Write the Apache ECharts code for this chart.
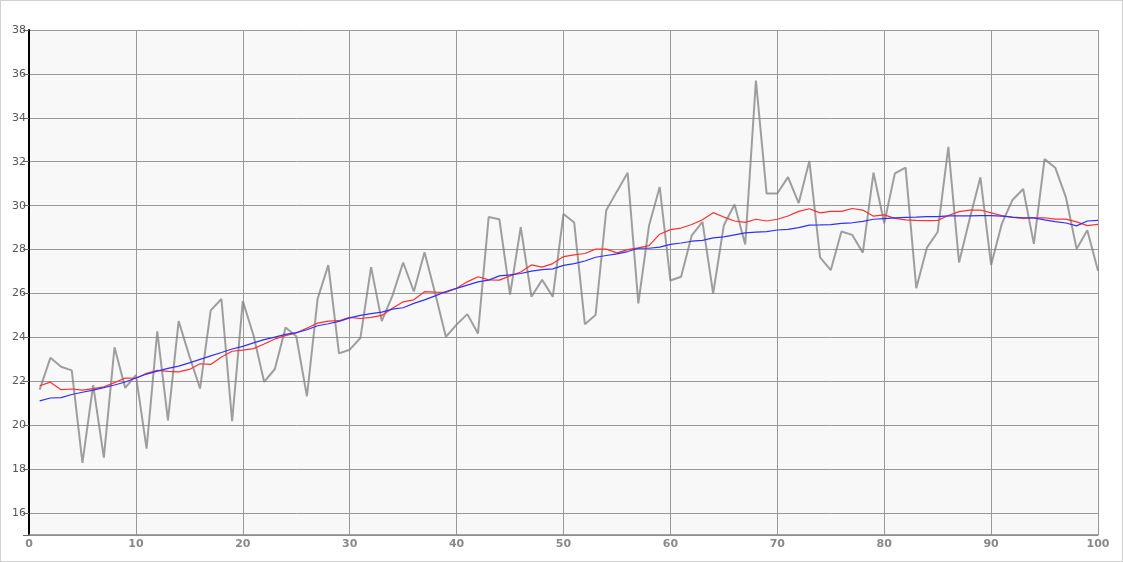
<!DOCTYPE html>
<html>
<head>
<meta charset="utf-8">
<script src="https://cdn.jsdelivr.net/npm/echarts@6/dist/echarts.min.js"></script>
<style>
  html, body { margin: 0; padding: 0; background: #fff; }
  #chart { width: 1123px; height: 562px; box-sizing: border-box; border: 1px solid #d0d0d0; }
</style>
</head>
<body>
<div id="chart"></div>
<script>
// raw values, x = 1..100
const rawValues = [
  21.62, 23.07, 22.66, 22.50, 18.28, 21.83, 18.52, 23.55, 21.70, 22.28,
  18.93, 24.27, 20.22, 24.74, 23.15, 21.67, 25.23, 25.75, 20.18, 25.65,
  24.10, 21.97, 22.56, 24.45, 24.05, 21.32, 25.76, 27.29, 23.27, 23.44,
  23.97, 27.20, 24.74, 25.90, 27.41, 26.09, 27.88, 26.00, 24.02, 24.58,
  25.06, 24.18, 29.48, 29.38, 25.95, 29.02, 25.85, 26.62, 25.85, 29.62,
  29.23, 24.60, 25.02, 29.79, 30.65, 31.50, 25.55, 29.08, 30.85, 26.59,
  26.76, 28.65, 29.26, 26.00, 29.11, 30.05, 28.23, 35.70, 30.55, 30.55,
  31.30, 30.12, 32.03, 27.64, 27.06, 28.82, 28.67, 27.86, 31.50, 29.20,
  31.47, 31.73, 26.24, 28.09, 28.80, 32.68, 27.41, 29.40, 31.29, 27.30,
  29.17, 30.26, 30.76, 28.26, 32.12, 31.73, 30.38, 28.03, 28.88, 27.03
];

// red curve
const redValues = [
  21.80, 21.96, 21.62, 21.65, 21.60, 21.67, 21.75, 21.94, 22.15, 22.14,
  22.36, 22.50, 22.45, 22.43, 22.54, 22.80, 22.77, 23.11, 23.37, 23.42,
  23.49, 23.70, 23.93, 24.08, 24.20, 24.42, 24.65, 24.74, 24.76, 24.91,
  24.86, 24.91, 25.00, 25.33, 25.62, 25.71, 26.08, 26.06, 26.05, 26.24,
  26.53, 26.76, 26.62, 26.61, 26.80, 26.98, 27.30, 27.20, 27.36, 27.68,
  27.76, 27.82, 28.02, 28.02, 27.85, 28.00, 28.08, 28.18, 28.70, 28.91,
  28.98, 29.14, 29.36, 29.68, 29.48, 29.30, 29.24, 29.38, 29.30, 29.38,
  29.53, 29.74, 29.86, 29.67, 29.74, 29.74, 29.87, 29.80, 29.52, 29.58,
  29.42, 29.35, 29.33, 29.32, 29.33, 29.55, 29.73, 29.80, 29.80, 29.67,
  29.55, 29.47, 29.42, 29.44, 29.45, 29.39, 29.39, 29.26, 29.09, 29.15
];

// blue curve
const blueValues = [
  21.11, 21.24, 21.26, 21.40, 21.50, 21.60, 21.71, 21.83, 21.97, 22.15,
  22.33, 22.46, 22.59, 22.69, 22.84, 23.00, 23.16, 23.31, 23.47, 23.59,
  23.75, 23.90, 24.01, 24.14, 24.22, 24.35, 24.53, 24.62, 24.73, 24.89,
  25.00, 25.08, 25.15, 25.29, 25.35, 25.55, 25.71, 25.89, 26.09, 26.23,
  26.38, 26.53, 26.61, 26.80, 26.85, 26.91, 27.02, 27.09, 27.12, 27.28,
  27.36, 27.48, 27.65, 27.73, 27.80, 27.91, 28.06, 28.06, 28.11, 28.24,
  28.30, 28.38, 28.42, 28.53, 28.58, 28.67, 28.76, 28.79, 28.82, 28.89,
  28.92, 29.00, 29.11, 29.12, 29.14, 29.19, 29.22, 29.28, 29.38, 29.41,
  29.44, 29.47, 29.48, 29.50, 29.50, 29.53, 29.53, 29.53, 29.55, 29.55,
  29.52, 29.48, 29.45, 29.44, 29.35, 29.27, 29.21, 29.08, 29.30, 29.33
];

// y ticks: 15 is the axis bottom (tick only), labels from 16 to 38
const yTicks = [15, 16, 18, 20, 22, 24, 26, 28, 30, 32, 34, 36, 38];
const yLabels = [16, 18, 20, 22, 24, 26, 28, 30, 32, 34, 36, 38];

const toPairs = arr => arr.map((v, i) => [i + 1, v]);

const chart = echarts.init(document.getElementById("chart"));

chart.setOption({
  animation: false,
  grid: {
    left: 28, right: 24, top: 29, bottom: 26,
    show: true, backgroundColor: "#f8f8f8", borderWidth: 0,
  },
  xAxis: {
    type: "value",
    min: 0, max: 100, interval: 10,
    axisLine: { show: true, onZero: false, lineStyle: { color: "#888", width: 1.5 } },
    axisTick: { show: false },
    axisLabel: { color: "#888", fontWeight: "bold", fontSize: 11, margin: 4, fontFamily: "DejaVu Sans" },
    splitLine: { show: true, lineStyle: { color: "#999", width: 1 } },
  },
  yAxis: {
    type: "value",
    min: 15, max: 38,
    axisLine: { show: true, lineStyle: { color: "#000", width: 2 } },
    axisTick: { show: true, length: 6, customValues: yTicks, lineStyle: { color: "#666" } },
    axisLabel: {
      color: "#555", fontSize: 11, margin: 3, fontFamily: "DejaVu Sans",
      customValues: yLabels,
    },
    splitLine: { show: true, lineStyle: { color: "#999", width: 1 } },
  },
  series: [
    {
      type: "line", data: toPairs(rawValues), symbol: "none",
      lineStyle: { color: "rgba(128,128,128,0.75)", width: 2 },
    },
    {
      type: "line", data: toPairs(redValues), symbol: "none",
      lineStyle: { color: "#ff3030", width: 1.2 },
    },
    {
      type: "line", data: toPairs(blueValues), symbol: "none",
      lineStyle: { color: "#3030ff", width: 1.2 },
    },
  ],
});
</script>
</body>
</html>
